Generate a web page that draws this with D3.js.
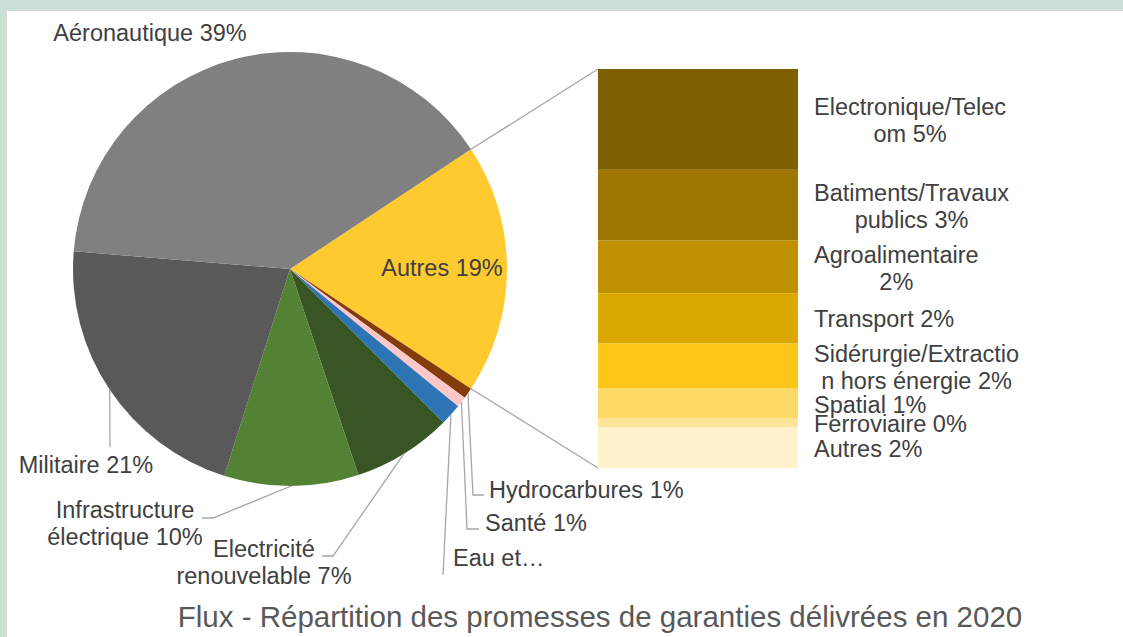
<!DOCTYPE html>
<html>
<head>
<meta charset="utf-8">
<script src="https://cdn.jsdelivr.net/npm/d3@7"></script>
<style>
	html, body { margin: 0; padding: 0; background: #fff; }
	svg { display: block; font-family: "Liberation Sans", Arial, sans-serif; }
</style>
</head>
<body>
<svg id="chart" width="1123" height="637"></svg>
<script>
// main pie, clockwise starting with the "Autres" slice (centered on the right)
var mainNames = ["Autres", "Hydrocarbures", "Santé", "Eau et assainissement", "Electricité renouvelable", "Infrastructure électrique", "Militaire", "Aéronautique"];
var mainValues = [null, 0.8, 0.8, 1.6, 7.4, 10.0, 21.4, 39.4];
var mainColors = ["#ffca30", "#843c0c", "#ffc7c7", "#2e75b6", "#375623", "#548235", "#595959", "#808080"];

// breakdown of "Autres" (bar, top to bottom)
var subNames = ["Electronique/Telecom", "Batiments/Travaux publics", "Agroalimentaire", "Transport", "Sidérurgie/Extraction hors énergie", "Spatial", "Ferroviaire", "Autres"];
var subValues = [4.7, 3.3, 2.45, 2.35, 2.1, 1.4, 0.4, 1.9];
var subColors = ["#7f6000", "#9f7700", "#bf9000", "#daa800", "#ffc71a", "#ffd966", "#ffe597", "#fff2cc"];

var title = "Flux - Répartition des promesses de garanties délivrées en 2020";

mainValues[0] = d3.sum(subValues);
var total = d3.sum(mainValues);
function pct(v) { return Math.round(v / total * 100) + "%"; }

var svg = d3.select("#chart");
var W = 1123, H = 637;
var textColor = "#404040", lineColor = "#a6a6a6";
var fontSize = 23.5;

// frame
svg.append("rect").attr("width", W).attr("height", H).attr("fill", "#c9e2d5");
svg.append("rect").attr("x", 6).attr("y", 10).attr("width", W - 6).attr("height", H - 10).attr("fill", "#d9d9d9");
svg.append("rect").attr("x", 7).attr("y", 11).attr("width", W - 7).attr("height", H - 11).attr("fill", "#fff");

var cx = 290, cy = 269, r = 217;
var otherAngle = mainValues[0] / total * 2 * Math.PI;
var a0 = Math.PI / 2 - otherAngle / 2;

var pie = d3.pie().sort(null).value(function (d) { return d; })
	.startAngle(a0).endAngle(a0 + 2 * Math.PI);
var arcs = pie(mainValues);
var arc = d3.arc().innerRadius(0).outerRadius(r);

var g = svg.append("g").attr("transform", "translate(" + cx + "," + cy + ")");
g.selectAll("path.slice")
	.data(arcs).enter().append("path")
	.attr("class", "slice")
	.attr("d", arc)
	.attr("fill", function (d, i) { return mainColors[i]; });

function edgePoint(angle) {
	return [cx + r * Math.sin(angle), cy - r * Math.cos(angle)];
}

// bar of pie
var bar = { x: 598, w: 200, top: 69, bottom: 468 };
var y = d3.scaleLinear().domain([0, mainValues[0]]).range([bar.top, bar.bottom]);
var cum = d3.cumsum(subValues);
var stacks = subValues.map(function (v, i) { return { y0: cum[i] - v, y1: cum[i], v: v }; });

svg.selectAll("rect.seg")
	.data(stacks).enter().append("rect")
	.attr("class", "seg")
	.attr("x", bar.x)
	.attr("width", bar.w)
	.attr("y", function (d) { return y(d.y0); })
	.attr("height", function (d) { return y(d.y1) - y(d.y0); })
	.attr("fill", function (d, i) { return subColors[i]; });

// connector lines between the pie and the bar
var pTop = edgePoint(arcs[0].startAngle), pBot = edgePoint(arcs[0].endAngle);
svg.append("line").attr("x1", pTop[0]).attr("y1", pTop[1]).attr("x2", bar.x).attr("y2", y(0))
	.attr("stroke", lineColor).attr("stroke-width", 1.3);
svg.append("line").attr("x1", pBot[0]).attr("y1", pBot[1]).attr("x2", bar.x).attr("y2", y(mainValues[0]))
	.attr("stroke", lineColor).attr("stroke-width", 1.3);

// writes a label, broken into lines at character index brk
function label(x, yBase, text, anchor, brk) {
	var lines = brk ? [text.slice(0, brk).trim(), text.slice(brk).trim()] : [text];
	var t = svg.append("text")
		.attr("fill", textColor)
		.style("font-size", fontSize + "px")
		.attr("text-anchor", anchor || "middle");
	lines.forEach(function (s, k) {
		t.append("tspan").attr("x", x).attr("y", yBase + k * 27).text(s);
	});
	return t;
}

// main labels: position of first baseline, leader line elbow (if any)
var mainLayout = [
	{ x: 442, y: 276 },
	{ x: 489, y: 498, anchor: "start", leader: [[473, 495], [484, 495]] },
	{ x: 485, y: 531, anchor: "start", leader: [[467, 529], [479, 529]] },
	{ x: 453, y: 566, anchor: "start", leader: [[443, 575]], text: "Eau et…" },
	{ x: 264, y: 557, brk: 11, leader: [[333, 556], [322, 556]] },
	{ x: 125, y: 518, brk: 14, leader: [[213, 518], [202, 518]] },
	{ x: 86, y: 473, leader: [[110, 447]] },
	{ x: 150, y: 41 }
];

arcs.forEach(function (d, i) {
	var L = mainLayout[i];
	if (L.leader) {
		var p = edgePoint((d.startAngle + d.endAngle) / 2);
		svg.append("polyline")
			.attr("points", [p].concat(L.leader).map(function (q) { return q.join(","); }).join(" "))
			.attr("fill", "none")
			.attr("stroke", lineColor)
			.attr("stroke-width", 1.3);
	}
	var txt = L.text || (mainNames[i] + " " + pct(d.value));
	label(L.x, L.y, txt, L.anchor, L.brk);
});

// bar labels, block centred on each segment, left edge at 814
var subBreaks = [18, 17, 15, 0, 20, 0, 0, 0];
stacks.forEach(function (d, i) {
	var brk = subBreaks[i];
	var mid = (y(d.y0) + y(d.y1)) / 2;
	var yBase = brk ? mid - 4 : mid + 9;
	var t = label(0, yBase, subNames[i] + " " + pct(d.v), "middle", brk);
	var bb = t.node().getBBox();
	t.attr("transform", "translate(" + (814 - bb.x) + ",0)");
});

// title
svg.append("text")
	.attr("x", 600)
	.attr("y", 627)
	.attr("text-anchor", "middle")
	.attr("fill", "#595959")
	.style("font-size", "29.5px")
	.text(title);
</script>
</body>
</html>
